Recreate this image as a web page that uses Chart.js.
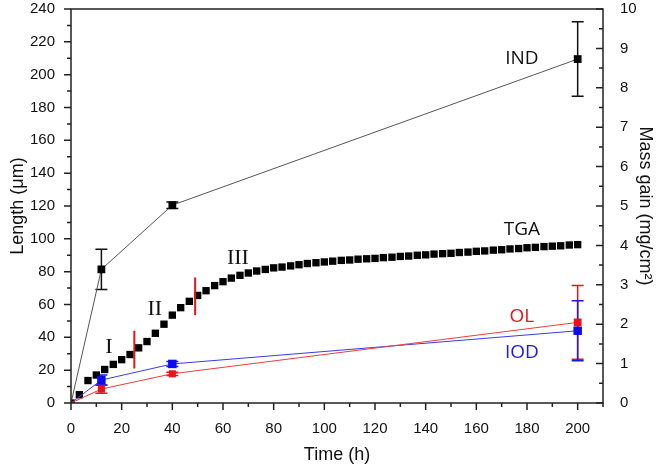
<!DOCTYPE html>
<html>
<head>
<meta charset="utf-8">
<script src="https://cdn.jsdelivr.net/npm/chart.js@4/dist/chart.umd.min.js"></script>
<style>
  html, body { margin: 0; padding: 0; background: #fff; }
  #wrap { width: 662px; height: 468px; }
</style>
</head>
<body>
<div id="wrap"><canvas id="c" width="662" height="468"></canvas></div>
<script>
// measurements at 0, 12, 40 and 200 h
var timeH = [0, 12, 40, 200];
var indLength = [0, 81.4, 120.5, 209.5];
var indErr = [0, 12.2, 2, 22.7];
var olLength = [0, 8.5, 17.8, 49.1];
var olErr = [0, 2.5, 1, 22.5];
var iodLength = [0, 14, 23.8, 44];
var iodErr = [0, 3, 1.5, 18.3];

// TGA mass gain (mg/cm2)
var tgaTime = [0, 3.3, 6.7, 10, 13.3, 16.7, 20, 23.3, 26.7, 30, 33.3, 36.7, 40, 43.3, 46.7, 50,
  53.3, 56.7, 60, 63.3, 66.7, 70, 73.3, 76.7, 80, 83.3, 86.7, 90, 93.3, 96.7, 100,
  103.3, 106.7, 110, 113.3, 116.7, 120, 123.3, 126.7, 130, 133.3, 136.7, 140, 143.3, 146.7, 150,
  153.3, 156.7, 160, 163.3, 166.7, 170, 173.3, 176.7, 180, 183.3, 186.7, 190, 193.3, 196.7, 200];
var tgaGain = [0, 0.21, 0.57, 0.71, 0.85, 0.98, 1.10, 1.23, 1.40, 1.56, 1.77, 2.00, 2.23, 2.42, 2.58, 2.73,
  2.85, 2.98, 3.08, 3.17, 3.24, 3.30, 3.35, 3.39, 3.43, 3.45, 3.48, 3.51, 3.54, 3.56, 3.58,
  3.60, 3.62, 3.63, 3.65, 3.66, 3.67, 3.69, 3.70, 3.72, 3.73, 3.75, 3.76, 3.78, 3.79, 3.80,
  3.82, 3.83, 3.85, 3.86, 3.88, 3.89, 3.91, 3.92, 3.94, 3.95, 3.97, 3.98, 3.99, 4.01, 4.02];

// stage boundaries (red bars) and stage labels
var stageTime = [25, 49];
var stageLow = [21, 53.5];
var stageHigh = [44, 76.5];
var stageNames = ['I', 'II', 'III'];
var stageNameTime = [15, 33.1, 65.9];
var stageNameLength = [34, 57, 88];

// curve labels
var curveNames = ['IND', 'TGA', 'OL', 'IOD'];
var curveNameTime = [178, 178, 178, 178];
var curveNameLength = [209.8, 105.4, 52.4, 30.5];
var curveColors = ['#111', '#111', '#e3161b', '#1a1ae6'];

var xMajor = [0, 20, 40, 60, 80, 100, 120, 140, 160, 180, 200];
var xMinor = [10, 30, 50, 70, 90, 110, 130, 150, 170, 190, 210];
var yMajor = [0, 20, 40, 60, 80, 100, 120, 140, 160, 180, 200, 220, 240];
var yMinor = [10, 30, 50, 70, 90, 110, 130, 150, 170, 190, 210, 230];
var y1Major = [0, 1, 2, 3, 4, 5, 6, 7, 8, 9, 10];
var y1Minor = [0.5, 1.5, 2.5, 3.5, 4.5, 5.5, 6.5, 7.5, 8.5, 9.5];

function pts(xs, ys) {
  return xs.map(function (x, i) { return { x: x, y: ys[i] }; });
}

var sans = '"Liberation Sans", Arial, sans-serif';
var tickFont = { family: sans, size: 15 };
var titleFont = { family: sans, size: 18 };

var errorBars = {
  id: 'errorBars',
  beforeDatasetsDraw: function (chart) {
    var ctx = chart.ctx;
    chart.data.datasets.forEach(function (ds) {
      if (!ds.errors) return;
      var xs = chart.scales.x, ys = chart.scales[ds.yAxisID];
      ctx.save();
      ctx.strokeStyle = ds.errColor;
      ctx.lineWidth = 1.5;
      ds.data.forEach(function (p, j) {
        var e = ds.errors[j];
        if (!e) return;
        var px = xs.getPixelForValue(p.x);
        var top = ys.getPixelForValue(p.y + e), bot = ys.getPixelForValue(p.y - e);
        ctx.beginPath();
        ctx.moveTo(px, top); ctx.lineTo(px, bot);
        ctx.moveTo(px - 6, top); ctx.lineTo(px + 6, top);
        ctx.moveTo(px - 6, bot); ctx.lineTo(px + 6, bot);
        ctx.stroke();
      });
      ctx.restore();
    });
  }
};

var decorations = {
  id: 'decorations',
  afterDatasetsDraw: function (chart) {
    var ctx = chart.ctx, xs = chart.scales.x, ys = chart.scales.y;
    ctx.save();
    ctx.strokeStyle = '#e3161b';
    ctx.lineWidth = 2;
    stageTime.forEach(function (t, i) {
      var px = xs.getPixelForValue(t);
      ctx.beginPath();
      ctx.moveTo(px, ys.getPixelForValue(stageHigh[i]));
      ctx.lineTo(px, ys.getPixelForValue(stageLow[i]));
      ctx.stroke();
    });
    ctx.textAlign = 'center';
    ctx.textBaseline = 'middle';
    ctx.fillStyle = '#111';
    ctx.font = '22px "Liberation Serif", serif';
    stageNames.forEach(function (s, i) {
      ctx.fillText(s, xs.getPixelForValue(stageNameTime[i]), ys.getPixelForValue(stageNameLength[i]));
    });
    ctx.font = '19px "Open Sans", sans-serif';
    curveNames.forEach(function (s, i) {
      ctx.fillStyle = curveColors[i];
      ctx.fillText(s, xs.getPixelForValue(curveNameTime[i]), ys.getPixelForValue(curveNameLength[i]));
    });
    ctx.restore();
  },
  afterDraw: function (chart) {
    var ctx = chart.ctx, a = chart.chartArea;
    var xs = chart.scales.x, ys = chart.scales.y, y1 = chart.scales.y1;
    ctx.save();
    ctx.strokeStyle = '#222';
    ctx.lineWidth = 1.5;
    ctx.strokeRect(a.left, a.top, a.right - a.left, a.bottom - a.top);
    ctx.beginPath();
    function xt(v, len) { var p = xs.getPixelForValue(v); ctx.moveTo(p, a.bottom); ctx.lineTo(p, a.bottom + len); }
    function yt(v, len) { var p = ys.getPixelForValue(v); ctx.moveTo(a.left, p); ctx.lineTo(a.left - len, p); }
    function rt(v, len) { var p = y1.getPixelForValue(v); ctx.moveTo(a.right, p); ctx.lineTo(a.right - len, p); }
    xMajor.forEach(function (v) { xt(v, 7); });
    xMinor.forEach(function (v) { xt(v, 4); });
    yMajor.forEach(function (v) { yt(v, 7); });
    yMinor.forEach(function (v) { yt(v, 4); });
    y1Major.forEach(function (v) { rt(v, 7); });
    y1Minor.forEach(function (v) { rt(v, 4); });
    ctx.stroke();
    ctx.restore();
  }
};

function onlyTicks(list) {
  return function (scale) {
    scale.ticks = list.map(function (v) { return { value: v }; });
  };
}

function fixSize(w, h) {
  return function (s) {
    if (w) s.width = w;
    if (h) s.height = h;
    s.paddingTop = 0; s.paddingBottom = 0;
    s.paddingLeft = 0; s.paddingRight = 0;
  };
}

new Chart(document.getElementById('c'), {
  type: 'line',
  data: {
    datasets: [
      {
        data: pts(timeH, indLength),
        errors: indErr,
        errColor: '#111',
        yAxisID: 'y',
        borderColor: '#555',
        borderWidth: 1,
        pointStyle: 'rect',
        pointRadius: [0, 5.5, 5.5, 5.5],
        backgroundColor: '#000',
        pointBorderColor: '#000',
        pointBorderWidth: 0
      },
      {
        data: pts(timeH, olLength),
        errors: olErr,
        errColor: '#e3161b',
        yAxisID: 'y',
        borderColor: '#f03c3c',
        borderWidth: 1,
        pointStyle: 'rect',
        pointRadius: [0, 5, 5, 5.5],
        backgroundColor: '#e8141a',
        pointBorderColor: '#e8141a',
        pointBorderWidth: 0
      },
      {
        data: pts(timeH, iodLength),
        errors: iodErr,
        errColor: '#1a1ae6',
        yAxisID: 'y',
        borderColor: '#3a3aee',
        borderWidth: 1,
        pointStyle: 'rect',
        pointRadius: [0, 6, 6, 6],
        backgroundColor: '#0a0af5',
        pointBorderColor: '#0a0af5',
        pointBorderWidth: 0
      },
      {
        data: pts(tgaTime, tgaGain),
        yAxisID: 'y1',
        showLine: false,
        pointStyle: 'rect',
        pointRadius: 5.2,
        backgroundColor: '#000',
        pointBorderColor: '#000',
        pointBorderWidth: 0
      }
    ]
  },
  options: {
    responsive: false,
    animation: false,
    layout: { padding: { top: 9, left: 0, right: 0, bottom: 0 } },
    plugins: {
      legend: { display: false },
      title: { display: false },
      tooltip: { enabled: false }
    },
    scales: {
      x: {
        type: 'linear',
        min: 0,
        max: 210,
        afterBuildTicks: onlyTicks(xMajor),
        afterFit: fixSize(0, 65),
        grid: { display: false },
        border: { display: false },
        ticks: { color: '#111', font: tickFont, padding: 9, maxRotation: 0 },
        title: { display: true, text: 'Time (h)', color: '#111', font: titleFont, padding: { top: 0, bottom: 2 } }
      },
      y: {
        type: 'linear',
        position: 'left',
        min: 0,
        max: 240,
        afterBuildTicks: onlyTicks(yMajor),
        afterFit: fixSize(71, 0),
        grid: { display: false },
        border: { display: false },
        ticks: { color: '#111', font: tickFont, padding: 8 },
        title: { display: true, text: 'Length (\u03bcm)', color: '#111', font: titleFont, padding: { top: 7, bottom: 0 } }
      },
      y1: {
        type: 'linear',
        position: 'right',
        min: 0,
        max: 10,
        afterBuildTicks: onlyTicks(y1Major),
        afterFit: fixSize(59, 0),
        grid: { display: false },
        border: { display: false },
        ticks: { color: '#111', font: tickFont, padding: 9 },
        title: { display: true, text: 'Mass gain (mg/cm\u00b2)', color: '#111', font: titleFont, padding: { top: 6, bottom: 0 } }
      }
    }
  },
  plugins: [errorBars, decorations]
});
</script>
</body>
</html>
